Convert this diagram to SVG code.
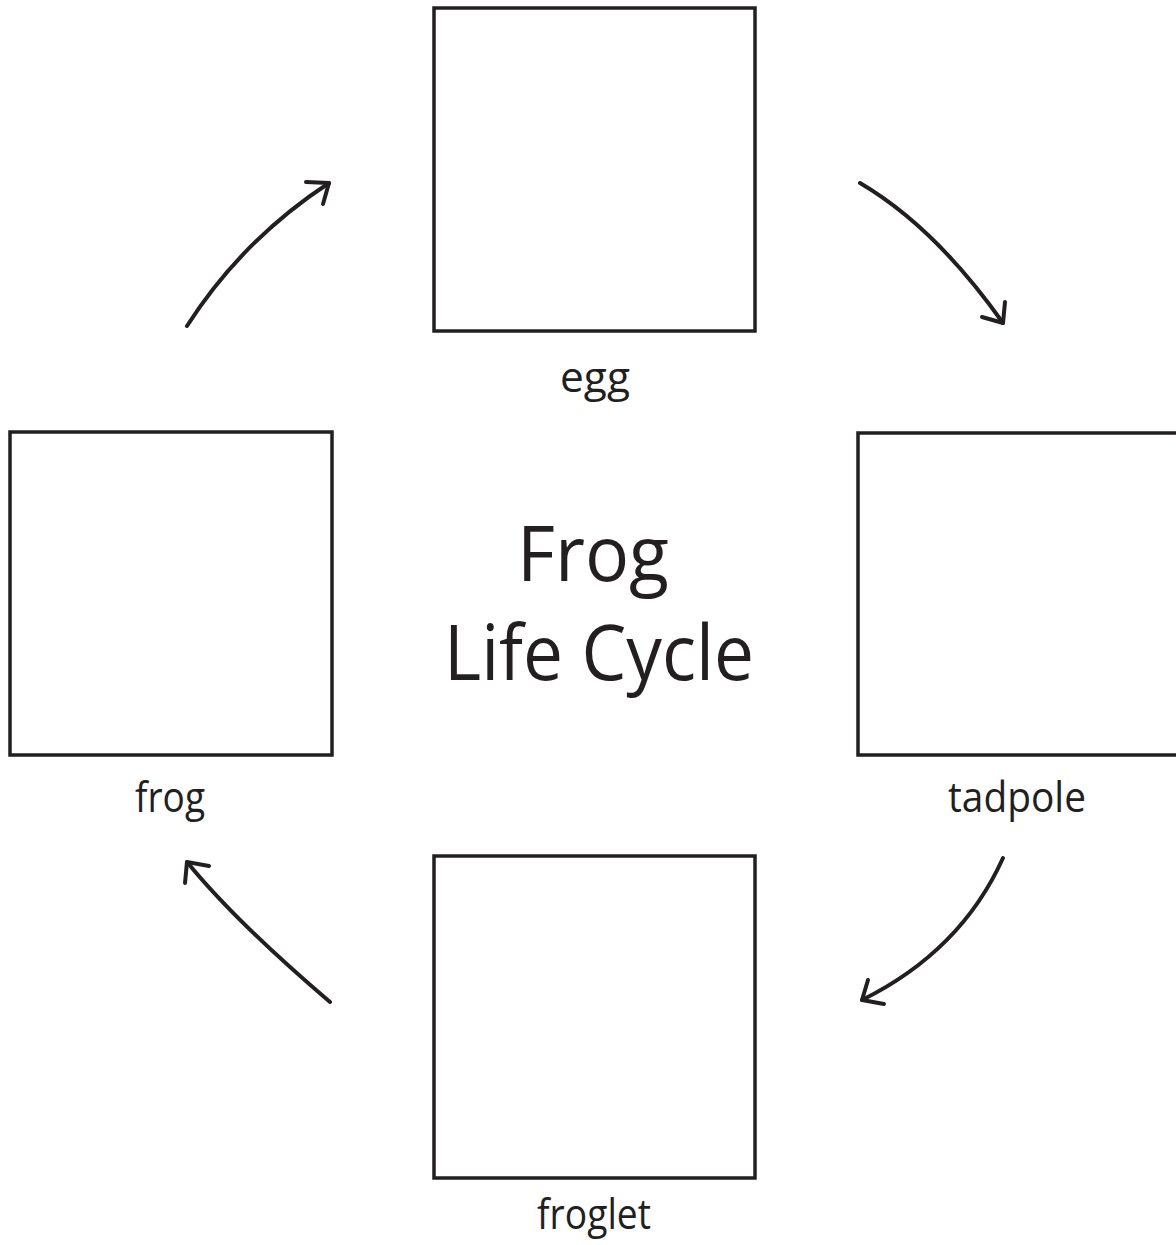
<svg xmlns="http://www.w3.org/2000/svg" width="1176" height="1245" viewBox="0 0 1176 1245">
<style>
.box{fill:#fff;stroke:#231f20;stroke-width:3.5}
.lbl{font-family:"Open Sans","Noto Sans",sans-serif;font-size:42px;fill:#231f20;text-anchor:middle}
.title{font-family:"Open Sans","Noto Sans",sans-serif;font-size:76px;fill:#231f20;text-anchor:middle}
.arr{fill:none;stroke:#231f20;stroke-width:4;stroke-linecap:round;stroke-linejoin:round}
</style>
<rect width="1176" height="1245" fill="#fff"/>
<g id="egg">
<rect class="box" x="434" y="8" width="321" height="323"/>
<text class="lbl" x="595" y="392" textLength="70" lengthAdjust="spacingAndGlyphs">egg</text>
</g>
<g id="tadpole">
<rect class="box" x="858" y="433" width="330" height="322"/>
<text class="lbl" x="1017" y="812" textLength="138" lengthAdjust="spacingAndGlyphs">tadpole</text>
</g>
<g id="froglet">
<rect class="box" x="434" y="856" width="321" height="322"/>
<text class="lbl" x="594" y="1229" textLength="114" lengthAdjust="spacingAndGlyphs">froglet</text>
</g>
<g id="frog">
<rect class="box" x="10" y="432" width="322" height="323"/>
<text class="lbl" x="170" y="812" textLength="70" lengthAdjust="spacingAndGlyphs">frog</text>
</g>
<g id="title">
<text class="title" x="593" y="581" textLength="152" lengthAdjust="spacingAndGlyphs">Frog</text>
<text class="title" x="599" y="680" textLength="310" lengthAdjust="spacingAndGlyphs">Life Cycle</text>
</g>
<g id="connectors">
<path class="arr" d="M187,326 Q242,240 329,183"/>
<path class="arr" d="M306,182 L329,183 L323,204"/>
<path class="arr" d="M860,183 Q935,227 1003,323"/>
<path class="arr" d="M982,317 L1003,323 L1005,302"/>
<path class="arr" d="M1003,858 Q961,951 862,1000"/>
<path class="arr" d="M868,980 L862,1000 L884,1004"/>
<path class="arr" d="M330,1002 Q236,922 187,862"/>
<path class="arr" d="M185,883 L187,862 L209,866"/>
</g>
</svg>
